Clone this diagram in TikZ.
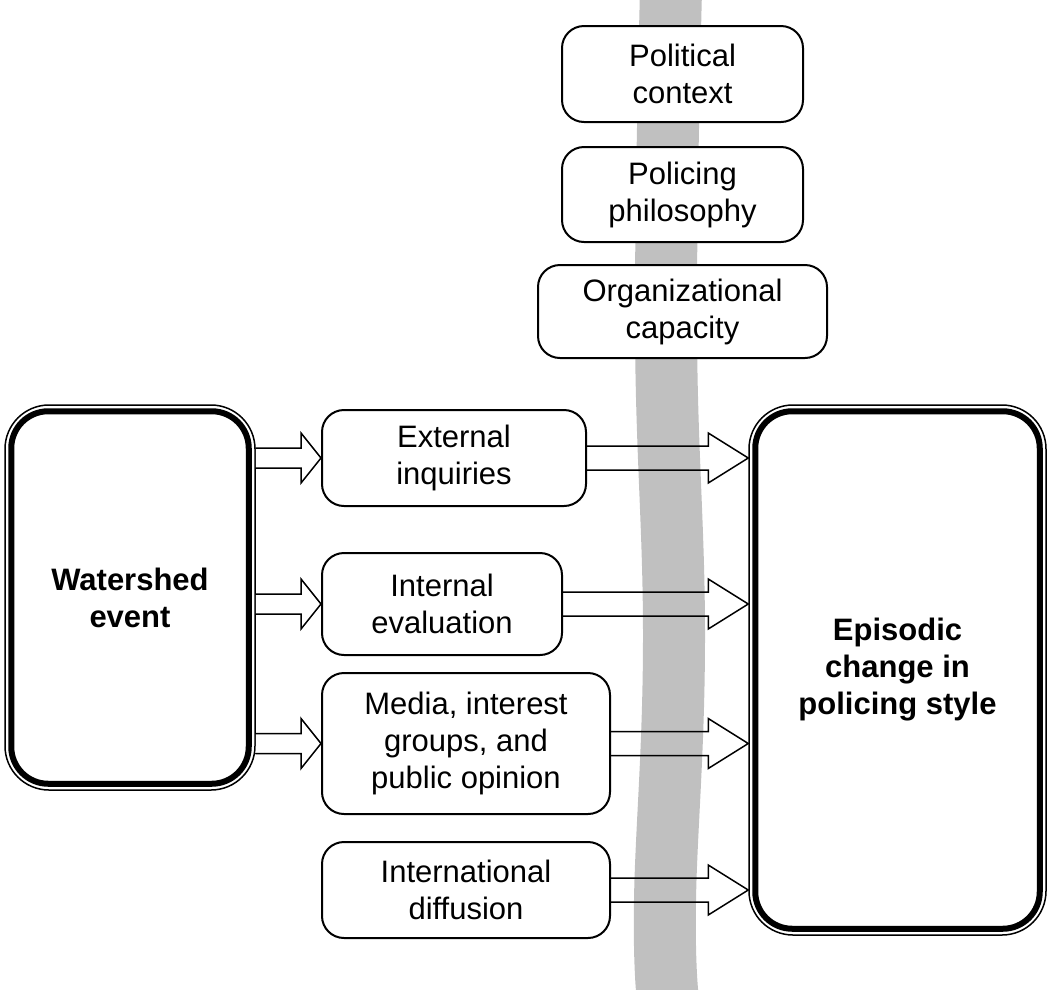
\documentclass[tikz,border=0pt]{standalone}
\usepackage{fontspec}
\setmainfont{Liberation Sans}
\usetikzlibrary{calc,positioning}
\definecolor{bandgray}{RGB}{192,192,192}
\newcommand{\boxfont}{\fontsize{31}{37}\selectfont}
% hollow block arrow: style, from, to, shaft half width, head half width, head length
\newcommand{\hollowarrow}[6]{%
  \draw[#1] ($(#2)+(0,#4)$) -- ($(#3)+(-#6,#4)$) -- ($(#3)+(-#6,#5)$) -- (#3)
    -- ($(#3)+(-#6,-#5)$) -- ($(#3)+(-#6,-#4)$) -- ($(#2)+(0,-#4)$);}

\begin{document}
\begin{tikzpicture}[line cap=round,line join=round,x=1pt,y=-1pt,
  factor/.style={draw,line width=2pt,rounded corners=22pt,fill=white,align=center,
    font=\boxfont,inner sep=0pt},
  mainbox/.style={draw,line width=1.5pt,rounded corners=44pt,fill=white,align=center,
    font=\boxfont\bfseries,inner sep=0pt},
  band/.style={line width=62pt,color=bandgray,line cap=butt},
  leftarrow/.style={line width=1.5pt,line join=miter,fill=white},
  rightarrow/.style={line width=1.5pt,line join=miter}]

\useasboundingbox (0,0) rectangle (1047,989);

% grey stream behind the boxes
\draw[band] plot[smooth,tension=0.7] coordinates {(671,-10) (666,330) (674,640) (665,900) (668,1000)};

% context boxes
\node[factor,minimum width=241pt,minimum height=96pt] (political) at (682.5,74) {Political\\context};
\node[factor,minimum width=241pt,minimum height=95pt] (philosophy) at (682.5,194.5) {Policing\\philosophy};
\node[factor,minimum width=289pt,minimum height=93pt] (capacity) at (682.5,311.5) {Organizational\\capacity};

% main boxes
\node[mainbox,minimum width=250pt,minimum height=385pt] (watershed) at (130,597.5) {Watershed\\event};
\node[mainbox,minimum width=297pt,minimum height=530pt] (episodic) at (897.5,670) {Episodic\\change in\\policing style};
\draw[line width=6pt,rounded corners=37pt] ([shift={(7pt,-7pt)}]watershed.north west) rectangle ([shift={(-7pt,7pt)}]watershed.south east);
\draw[line width=6pt,rounded corners=37pt] ([shift={(7pt,-7pt)}]episodic.north west) rectangle ([shift={(-7pt,7pt)}]episodic.south east);

% channels
\node[factor,minimum width=264pt,minimum height=96pt] (external) at (454,458) {External\\inquiries};
\node[factor,minimum width=240pt,minimum height=102pt] (internal) at (442,604) {Internal\\evaluation};
\node[factor,minimum width=288pt,minimum height=141pt] (media) at (466,743.5) {Media, interest\\groups, and\\public opinion};
\node[factor,minimum width=288pt,minimum height=96pt] (diffusion) at (466,890) {International\\diffusion};

% arrows out of the watershed event
\hollowarrow{leftarrow}{watershed.east |- external.west}{external.west}{10}{25}{20}
\hollowarrow{leftarrow}{watershed.east |- internal.west}{internal.west}{10}{25}{20}
\hollowarrow{leftarrow}{watershed.east |- media.west}{media.west}{10}{25}{20}

% arrows into the episodic change
\hollowarrow{rightarrow}{external.east}{episodic.west |- external.east}{12}{25}{40}
\hollowarrow{rightarrow}{internal.east}{episodic.west |- internal.east}{12}{25}{40}
\hollowarrow{rightarrow}{media.east}{episodic.west |- media.east}{12}{25}{40}
\hollowarrow{rightarrow}{diffusion.east}{episodic.west |- diffusion.east}{12}{25}{40}
\end{tikzpicture}
\end{document}
